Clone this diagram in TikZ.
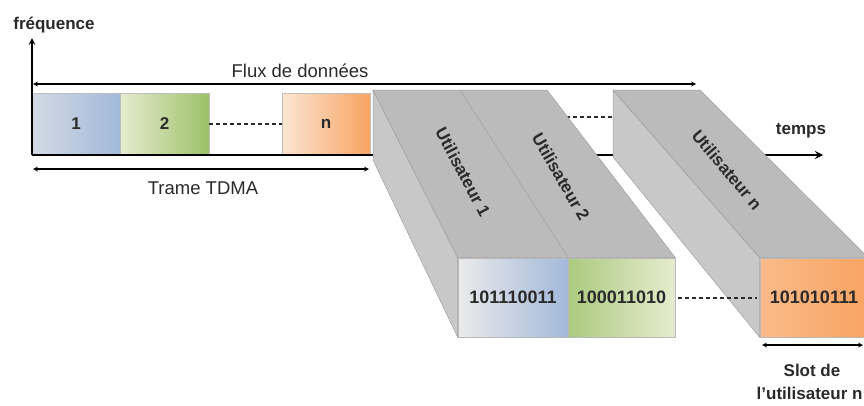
\documentclass[tikz,border=0pt]{standalone}
\usepackage{fontspec}
\setmainfont{Liberation Sans}

\definecolor{blueL}{HTML}{D3DAE4}
\definecolor{blueR}{HTML}{A2B9DA}
\definecolor{greenL}{HTML}{E6ECCF}
\definecolor{greenR}{HTML}{9CC168}
\definecolor{orangeL}{HTML}{FBE5D2}
\definecolor{orangeR}{HTML}{F8A462}
\definecolor{prismtop}{HTML}{BBBBBB}
\definecolor{prismside}{HTML}{C8C8C8}
\definecolor{ink}{HTML}{2A2A2A}

\tikzset{
 lbl/.style={text=ink, font=\fontsize{18.5}{22}\selectfont},
 blbl/.style={text=ink, font=\fontsize{17}{20}\selectfont\bfseries},
 slot/.style={draw=gray!50, line width=0.6pt, minimum height=62pt, minimum width=88pt, inner sep=0pt, blbl},
 data/.style={draw=gray!55, line width=0.6pt, minimum height=79pt, inner sep=0pt, blbl, font=\fontsize{18}{20}\selectfont\bfseries},
 face/.style={draw=gray!75, line width=0.5pt},
 dots/.style={draw=ink, line width=2pt, dash pattern=on 4pt off 3pt}
}

\begin{document}
\begin{tikzpicture}[x=1pt, y=-1pt, >=stealth, thick]
 \fill[white] (0,0) rectangle (864,405);
 \useasboundingbox (0,0) rectangle (864,405);

 % trame TDMA
 \node[slot, left color=blueL, right color=blueR] (s1) at (76,124) {1};
 \node[slot, left color=greenL, right color=greenR, minimum width=89pt] (s2) at (164.5,124) {2};
 \node[slot, left color=orangeL, right color=orangeR] (sn) at (326,124) {n};
 \draw[dots] (s2.east) -- (sn.west);

 \coordinate (orig) at (32,155);
 \coordinate (fend) at (32,38);
 \coordinate (tend) at (823,155);
 \draw[line width=2pt, ->] (orig) -- (fend);
 \node[blbl] (freq) at (54,25) {fréquence};
 \draw[line width=2.5pt, ->] (orig) -- (tend);
 \node[blbl] (temps) at (801,131) {temps};

 \coordinate (fl) at (33,84);
 \coordinate (fr) at (696,84);
 \draw[<->, line width=1.2pt] (fl) -- (fr);
 \node[lbl] (flux) at (300,71) {Flux de données};

 \coordinate (tl) at (33,169);
 \coordinate (tr) at (369,169);
 \draw[<->, line width=1.2pt] (tl) -- (tr);
 \node[lbl] (trame) at (203,188) {Trame TDMA};

 % slots des utilisateurs
 \node[data, minimum width=110pt, left color=black!8, right color=blueR] (d1) at (513,297.5) {101110011};
 \node[data, minimum width=107pt, left color=greenR!85, right color=greenL] (d2) at (621.5,297.5) {100011010};
 \node[data, minimum width=108pt, left color=orangeR!75, right color=orangeR] (dn) at (814,297.5) {101010111};
 \draw[dots] (552,117) -- (613,117);

 % blocs en perspective
 \draw[face, fill=prismside] (373,90) -- (d1.north west) -- (d1.south west) -- (373,160) -- cycle;
 \draw[face, fill=prismtop] (373,90) -- (547,90) -- (d2.north east) -- (d1.north west) -- cycle;
 \draw[face] (460,90) -- (d1.north east);
 \draw[face, fill=prismside] (613,90) -- (dn.north west) -- (dn.south west) -- (613,157) -- cycle;
 \draw[face, fill=prismtop] (613,90) -- (700,90) -- (dn.north east) -- (dn.north west) -- cycle;
 \draw[dots] ([xshift=3pt]d2.east) -- ([xshift=-3pt]dn.west);

 \node[blbl, rotate=-62] (u1) at (463,172) {Utilisateur 1};
 \node[blbl, rotate=-60] (u2) at (561,177) {Utilisateur 2};
 \node[blbl, rotate=-50] (un) at (727,170) {Utilisateur n};

 \coordinate (sl) at (762,345);
 \coordinate (sr) at (863,345);
 \draw[<->, line width=1.2pt] (sl) -- (sr);
 \node[blbl] (slot1) at (812,370) {Slot de};
 \node[blbl, anchor=west] (slot2) at (753,393) {l'utilisateur n};
\end{tikzpicture}
\end{document}
